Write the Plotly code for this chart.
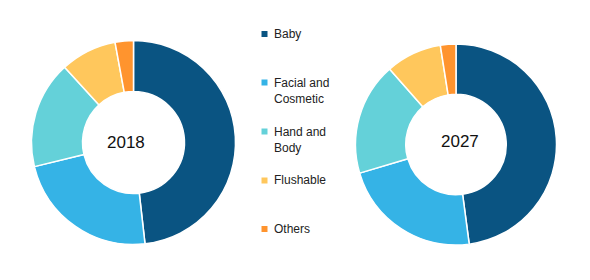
import plotly.graph_objects as go

labels = ["Baby", "Facial and Cosmetic", "Hand and Body", "Flushable", "Others"]
legend_text = ["Baby", "Facial and<br>Cosmetic", "Hand and<br>Body", "Flushable", "Others"]
colors = ["#0A5482", "#35B3E6", "#64D1D9", "#FFC75C", "#FF942E"]
share_2018 = [48.2, 23.0, 17.0, 8.9, 2.9]
share_2027 = [47.9, 22.5, 18.1, 9.0, 2.5]
years = ["2018", "2027"]

W, H = 590, 280

def dom(cx, cy, r):
    return dict(x=[(cx - r) / W, (cx + r) / W],
                y=[(H - cy - r) / H, (H - cy + r) / H])

fig = go.Figure()
for vals, d in [(share_2018, dom(133.5, 142.5, 102)), (share_2027, dom(456, 144.5, 100.5))]:
    fig.add_trace(go.Pie(
        labels=labels, values=vals, hole=0.5, sort=False, direction="clockwise",
        rotation=0, textinfo="none", hoverinfo="label+percent",
        marker=dict(colors=colors, line=dict(color="white", width=1.5)),
        domain=d, showlegend=False))

annotations = []
for yr, cx, cy in [(years[0], 126, 142), (years[1], 460, 141)]:
    annotations.append(dict(text=yr, x=cx / W, y=(H - cy) / H, xref="paper", yref="paper",
                            showarrow=False, font=dict(size=17, color="#111",
                            family="Liberation Sans, Arial, sans-serif"),
                            xanchor="center", yanchor="middle"))

first_line_y = [34, 82.5, 131.5, 180.5, 229]
block_center_y = [34, 90.7, 139.5, 180.5, 229]
shapes = []
for txt, col, fy, by in zip(legend_text, colors, first_line_y, block_center_y):
    annotations.append(dict(text=txt, x=272 / W, y=(H - by) / H, xref="paper", yref="paper",
                            showarrow=False, align="left", xanchor="left", yanchor="middle",
                            font=dict(size=12, color="#222",
                                      family="Liberation Sans, Arial, sans-serif")))
    shapes.append(dict(type="rect", xref="paper", yref="paper",
                       x0=261.5 / W, x1=267.5 / W, y0=(H - fy - 3) / H, y1=(H - fy + 3) / H,
                       fillcolor=col, line=dict(width=0)))

fig.update_layout(width=W, height=H, margin=dict(l=0, r=0, t=0, b=0),
                  paper_bgcolor="white", plot_bgcolor="white",
                  annotations=annotations, shapes=shapes)
fig.write_html("out.html")
